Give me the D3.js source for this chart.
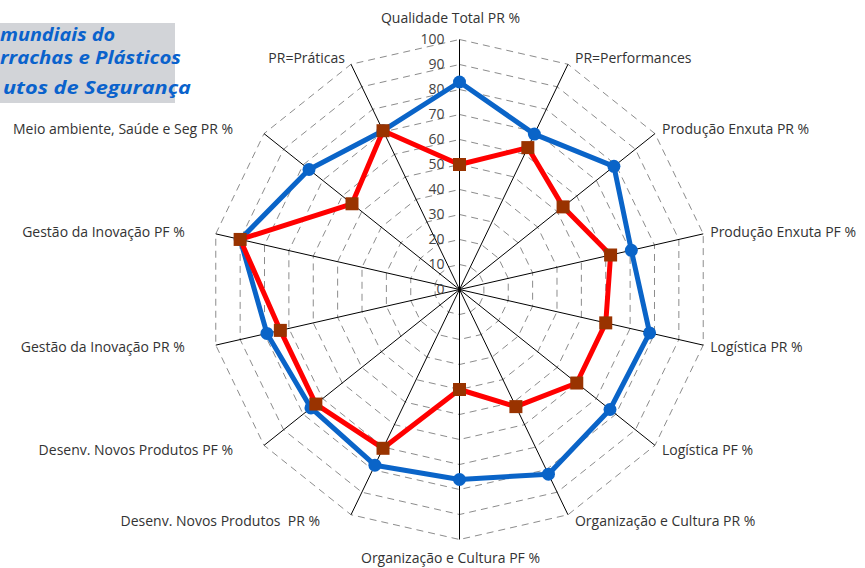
<!DOCTYPE html>
<html>
<head>
<meta charset="utf-8">
<script src="https://cdn.jsdelivr.net/npm/d3@7"></script>
<style>
  body { margin: 0; background: #fff; }
  svg { display: block; }
  text { white-space: pre; }
</style>
</head>
<body>
<div id="radar"></div>
<script>
// eixos do radar (sentido horario, a partir do topo)
const eixos = [
  "Qualidade Total PR %",
  "PR=Performances",
  "Produção Enxuta PR %",
  "Produção Enxuta PF %",
  "Logística PR %",
  "Logística PF %",
  "Organização e Cultura PR %",
  "Organização e Cultura PF %",
  "Desenv. Novos Produtos  PR %",
  "Desenv. Novos Produtos PF %",
  "Gestão da Inovação PR %",
  "Gestão da Inovação PF %",
  "Meio ambiente, Saúde e Seg PR %",
  "PR=Práticas"
];

const serieAzul = [83, 69, 79, 70.5, 78, 77, 82, 76, 78, 76, 79, 90, 77, 70.5];
const serieVermelha = [50, 63, 53, 62, 60, 60, 52, 40, 70.5, 73.5, 73.5, 90, 55, 70.5];

const ticks = [0, 10, 20, 30, 40, 50, 60, 70, 80, 90, 100];

// o titulo aparece cortado na imagem original
const tituloLinhas = ["mundiais do", "rrachas e Plásticos", "utos de Segurança"];

const width = 865, height = 568;
const cx = 459.5, cy = 289.5;

const svg = d3.select("#radar")
  .append("svg")
  .attr("width", width)
  .attr("height", height);

// caixa do titulo
svg.append("rect")
  .attr("x", 0).attr("y", 23)
  .attr("width", 175).attr("height", 80)
  .attr("fill", "#d2d4d8");

const tituloX = [0, 0, 3];
const tituloY = [41, 64, 94];
const tituloW = [115, 181, 188];
svg.append("g")
  .attr("font-family", "'Open Sans', sans-serif")
  .attr("font-weight", "bold")
  .attr("font-style", "italic")
  .attr("font-size", "18px")
  .attr("fill", "#0a62cc")
  .selectAll("text")
  .data(tituloLinhas)
  .enter()
  .append("text")
  .attr("x", (d, i) => tituloX[i])
  .attr("y", (d, i) => tituloY[i])
  .attr("textLength", (d, i) => tituloW[i])
  .attr("lengthAdjust", "spacingAndGlyphs")
  .text(d => d);

const r = d3.scaleLinear().domain([0, 100]).range([0, 250]);
const ang = d3.scalePoint().domain(eixos).range([0, 2 * Math.PI * (eixos.length - 1) / eixos.length]);

const g = svg.append("g").attr("transform", "translate(" + cx + "," + cy + ")");

const px = (a, v) => r(v) * Math.sin(a);
const py = (a, v) => -r(v) * Math.cos(a);

// grade tracejada
const grade = d3.lineRadial()
  .angle(d => ang(d))
  .curve(d3.curveLinearClosed);

g.append("g")
  .selectAll("path")
  .data(ticks.slice(1))
  .enter()
  .append("path")
  .attr("d", t => grade.radius(r(t))(eixos))
  .attr("fill", "none")
  .attr("stroke", "#8c8c8c")
  .attr("stroke-width", 1)
  .attr("stroke-dasharray", "7,5");

// eixos
g.append("g")
  .selectAll("line")
  .data(eixos)
  .enter()
  .append("line")
  .attr("x1", 0).attr("y1", 0)
  .attr("x2", d => px(ang(d), 100))
  .attr("y2", d => py(ang(d), 100))
  .attr("stroke", "#000")
  .attr("stroke-width", 1);

// rotulos da escala
g.append("g")
  .selectAll("text")
  .data(ticks)
  .enter()
  .append("text")
  .attr("x", -15)
  .attr("y", t => -r(t))
  .attr("dy", "0.35em")
  .attr("text-anchor", "end")
  .attr("font-family", "'Open Sans', sans-serif")
  .attr("font-size", "14px")
  .attr("fill", "#444")
  .text(t => t);

// rotulos dos eixos
g.append("g")
  .selectAll("text")
  .data(eixos)
  .enter()
  .append("text")
  .attr("font-family", "'Open Sans', sans-serif")
  .attr("font-size", "14px")
  .attr("fill", "#333")
  .attr("dy", "0.35em")
  .attr("text-anchor", (d, i) => {
    const a = ang(d);
    if (i === 0 || i === 7) return "middle";
    return Math.sin(a) > 0 ? "start" : "end";
  })
  .attr("x", (d, i) => {
    const a = ang(d);
    const x = px(a, 100);
    if (i === 0 || i === 7) return x - 9;
    if (Math.sin(a) > 0) return x + 7;
    return i === eixos.length - 1 ? x - 6 : x - 31;
  })
  .attr("y", (d, i) => {
    const a = ang(d);
    const y = py(a, 100);
    if (i === 0) return y - 21;
    if (i === 7) return y + 19;
    return y - 7 * Math.cos(a);
  })
  .text(d => d);

// series
const linha = (vals) => d3.lineRadial()
  .angle((d, i) => ang(eixos[i]))
  .radius(d => r(d))
  .curve(d3.curveLinearClosed)(vals);

g.append("path")
  .attr("d", linha(serieAzul))
  .attr("fill", "none")
  .attr("stroke", "#0a64c8")
  .attr("stroke-width", 5)
  .attr("stroke-linejoin", "round");

g.append("g")
  .selectAll("circle")
  .data(serieAzul)
  .enter()
  .append("circle")
  .attr("cx", (d, i) => px(ang(eixos[i]), d))
  .attr("cy", (d, i) => py(ang(eixos[i]), d))
  .attr("r", 6.5)
  .attr("fill", "#0a64c8");

g.append("path")
  .attr("d", linha(serieVermelha))
  .attr("fill", "none")
  .attr("stroke", "#ff0000")
  .attr("stroke-width", 5)
  .attr("stroke-linejoin", "round");

g.append("g")
  .selectAll("rect")
  .data(serieVermelha)
  .enter()
  .append("rect")
  .attr("x", (d, i) => px(ang(eixos[i]), d) - 6.5)
  .attr("y", (d, i) => py(ang(eixos[i]), d) - 6.5)
  .attr("width", 13)
  .attr("height", 13)
  .attr("fill", "#993300");
</script>
</body>
</html>
